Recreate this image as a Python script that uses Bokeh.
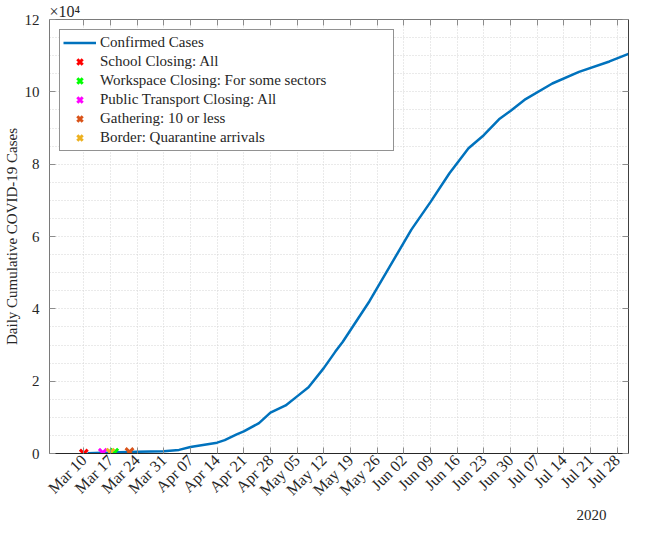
import math
import pandas as pd
from bokeh.plotting import figure
from bokeh.models import (Range1d, FixedTicker, DatetimeTickFormatter, CustomJSTickFormatter,
                          LinearAxis, DatetimeAxis, Legend, LegendItem, Title,
                          CustomLabelingPolicy)
from bokeh.embed import file_html
from bokeh.resources import INLINE

# ---- data ----
case_dates = ["2020-03-11", "2020-03-17", "2020-03-24", "2020-03-31", "2020-04-04", "2020-04-07",
              "2020-04-14", "2020-04-16", "2020-04-19", "2020-04-21", "2020-04-25", "2020-04-28",
              "2020-05-02", "2020-05-05", "2020-05-08", "2020-05-12", "2020-05-15", "2020-05-17",
              "2020-05-24", "2020-05-31", "2020-06-04", "2020-06-09", "2020-06-14", "2020-06-19",
              "2020-06-23", "2020-06-27", "2020-06-30", "2020-07-04", "2020-07-11", "2020-07-18",
              "2020-07-26", "2020-07-31"]
case_values = [100, 250, 450, 600, 1000, 1800,
               3000, 3700, 5200, 6100, 8400, 11300,
               13300, 15800, 18300, 23600, 28100, 30900,
               42100, 54700, 61900, 69500, 77500, 84400,
               88000, 92400, 94700, 98000, 102300, 105500,
               108400, 110500]

event_names = ["School Closing: All", "Workspace Closing: For some sectors",
               "Public Transport Closing: All", "Gathering: 10 or less",
               "Border: Quarantine arrivals"]
event_dates = ["2020-03-10", "2020-03-18", "2020-03-15", "2020-03-22", "2020-03-17"]
event_values = [0, 250, 200, 400, 250]
event_colors = ["#FF0000", "#00FF00", "#FF00FF", "#D95319", "#EDB120"]

tick_dates = ["2020-03-10", "2020-03-17", "2020-03-24", "2020-03-31", "2020-04-07", "2020-04-14",
              "2020-04-21", "2020-04-28", "2020-05-05", "2020-05-12", "2020-05-19", "2020-05-26",
              "2020-06-02", "2020-06-09", "2020-06-16", "2020-06-23", "2020-06-30", "2020-07-07",
              "2020-07-14", "2020-07-21", "2020-07-28"]
y_ticks = [0, 20000, 40000, 60000, 80000, 100000, 120000]
y_minor = [5000, 10000, 15000, 25000, 30000, 35000, 45000, 50000, 55000, 65000, 70000, 75000,
           85000, 90000, 95000, 105000, 110000, 115000]

FONT = "Liberation Serif"
x_start = pd.Timestamp("2020-03-01")
x_end = pd.Timestamp("2020-07-31")

p = figure(width=632, height=524, output_backend="svg", toolbar_location=None,
           x_axis_type="datetime",
           x_range=Range1d(x_start, x_end), y_range=Range1d(0, 120000),
           min_border_top=0, min_border_left=0, min_border_right=0, min_border_bottom=0)
p.outline_line_color = None
p.background_fill_color = "white"
p.border_fill_color = "white"

tick_ms = [pd.Timestamp(d).value / 1e6 for d in tick_dates]
xticker = FixedTicker(ticks=tick_ms)
yticker = FixedTicker(ticks=y_ticks, minor_ticks=y_minor)

xa = p.xaxis[0]
xa.ticker = xticker
xa.formatter = DatetimeTickFormatter(days="%b %d", months="%b %d", hours="%b %d")
xa.major_label_orientation = math.pi / 4
ya = p.yaxis[0]
ya.ticker = yticker
ya.formatter = CustomJSTickFormatter(code="return String(Math.round(tick/10000));")
ya.axis_label = "Daily Cumulative COVID-19 Cases"

for ax, col in ((xa, "#262626"), (ya, "#7a7a7a")):
    ax.axis_line_color = col
    ax.major_tick_in = 6
    ax.major_tick_out = 0
    ax.major_tick_line_color = "#8c8c8c"
    ax.minor_tick_line_color = None
    ax.major_label_text_font = FONT
    ax.major_label_text_color = "#262626"
    ax.axis_label_text_font = FONT
    ax.axis_label_text_font_size = "15px"
    ax.axis_label_text_font_style = "normal"
    ax.axis_label_text_color = "#262626"
xa.major_label_text_font_size = "16px"
ya.major_label_text_font_size = "15px"
xa.major_label_standoff = 4
ya.major_label_standoff = 6
ya.axis_label_standoff = 2

hide_all = CustomLabelingPolicy(code="return new Set()")
blank = CustomJSTickFormatter(code="return '';")
top = DatetimeAxis(ticker=xticker, formatter=blank, major_label_policy=hide_all,
                   major_label_text_font_size="1px", major_label_standoff=0,
                   major_tick_in=6, major_tick_out=0, minor_tick_line_color=None,
                   major_tick_line_color="#8c8c8c", axis_line_color="#7a7a7a")
p.add_layout(top, "above")
right = LinearAxis(ticker=yticker, formatter=blank, major_label_policy=hide_all,
                   major_label_text_font_size="1px", major_label_standoff=0,
                   major_tick_in=6, major_tick_out=0, minor_tick_line_color=None,
                   major_tick_line_color="#8c8c8c", axis_line_color="#404040")
p.add_layout(right, "right")

p.xgrid.grid_line_color = "#d4d4d4"
p.xgrid.grid_line_dash = "1 2"
p.ygrid.grid_line_color = "#d4d4d4"
p.ygrid.grid_line_dash = "1 2"
p.ygrid.minor_grid_line_color = "#d4d4d4"
p.ygrid.minor_grid_line_dash = "1 2"

line = p.line(pd.to_datetime(case_dates), case_values, line_color="#0072BD", line_width=2.5)
items = [LegendItem(label="Confirmed Cases", renderers=[line])]
for name, d, v, c in zip(event_names, event_dates, event_values, event_colors):
    r = p.scatter([pd.Timestamp(d)], [v], marker="x", size=11, line_color=c, line_width=3)
    items.append(LegendItem(label=name, renderers=[r]))

legend = Legend(items=items, location="top_left", margin=10, padding=3, spacing=0,
                glyph_width=33, glyph_height=19, label_height=19, label_width=290,
                label_standoff=4, label_text_font=FONT, label_text_font_size="15px",
                label_text_color="#262626", border_line_color="#262626", border_line_width=1,
                background_fill_alpha=1.0)
p.add_layout(legend, "center")

p.add_layout(Title(text="×10⁴", align="left", offset=0, standoff=0, text_font=FONT,
                   text_font_size="16px", text_font_style="normal", text_color="#262626"),
             "above")
p.add_layout(Title(text="2020", align="right", offset=22, standoff=5, text_font=FONT,
                   text_font_size="15px", text_font_style="normal", text_color="#262626",
                   vertical_align="top"),
             "below")

open("out.html", "w").write(file_html(p, INLINE))
